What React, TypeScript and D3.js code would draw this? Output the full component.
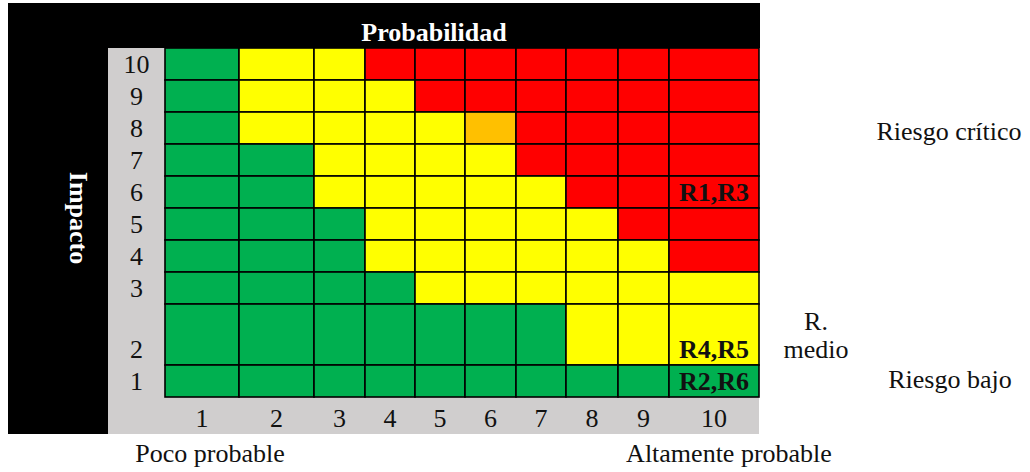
import React from 'react';
import * as d3 from 'd3';

// probability (columns) and impact (rows, top to bottom)
const probabilities = [1, 2, 3, 4, 5, 6, 7, 8, 9, 10];
const impacts = [10, 9, 8, 7, 6, 5, 4, 3, 2, 1];

// risk level per cell: B = bajo, M = medio, A = alto, C = crítico
const levels = [
  'BMMCCCCCCC',
  'BMMMCCCCCC',
  'BMMMMACCCC',
  'BBMMMMCCCC',
  'BBMMMMMCCC',
  'BBBMMMMMCC',
  'BBBMMMMMMC',
  'BBBBMMMMMM',
  'BBBBBBBMMM',
  'BBBBBBBBBB',
];

const risks = [
  { label: 'R1,R3', prob: 10, impact: 6 },
  { label: 'R4,R5', prob: 10, impact: 2 },
  { label: 'R2,R6', prob: 10, impact: 1 },
];

const sideNotes = [
  { lines: ['Riesgo crítico'], impact: 8 },
  { lines: ['R.', 'medio'], impact: 2 },
  { lines: ['Riesgo bajo'], impact: 1 },
];

// layout: sheet column widths / row heights
const colWidths = [74, 75, 51, 50, 50, 51, 50, 52, 51, 90];
const rowHeights = [32, 32, 32, 32, 32, 32, 32, 32, 61, 32];

const colors: Record<string, string> = {
  B: '#00B050',
  M: '#FFFF00',
  A: '#FFC000',
  C: '#FF0000',
};

const font = '"Liberation Serif", "Times New Roman", serif';

export default function App() {
  const gridLeft = 165, gridRight = 759, gridTop = 48, gridBottom = 397;

  const colEdges = [0, ...d3.cumsum(colWidths)];
  const rowEdges = [0, ...d3.cumsum(rowHeights)];
  const x = d3.scaleLinear().domain([0, d3.sum(colWidths)]).range([gridLeft, gridRight]);
  const y = d3.scaleLinear().domain([0, d3.sum(rowHeights)]).range([gridTop, gridBottom]);

  const colX = (p: number) => x(colEdges[probabilities.indexOf(p)]);
  const colX1 = (p: number) => x(colEdges[probabilities.indexOf(p) + 1]);
  const rowY = (i: number) => y(rowEdges[impacts.indexOf(i)]);
  const rowY1 = (i: number) => y(rowEdges[impacts.indexOf(i) + 1]);

  return (
    <svg width={1030} height={472} style={{ position: 'absolute', left: 0, top: 0 }} fontFamily={font}>
      <rect x={0} y={0} width={1030} height={472} fill="#fff" />
      {/* black header and side band */}
      <rect x={8} y={3} width={752} height={45} fill="#000" />
      <rect x={8} y={3} width={100} height={431} fill="#000" />
      <rect x={108} y={48} width={651} height={386} fill="#D0CECE" />
      <text x={434} y={41} textAnchor="middle" fill="#fff" fontWeight="bold" fontSize={26}>
        Probabilidad
      </text>
      <text transform="translate(70,218) rotate(90)" textAnchor="middle" fill="#fff" fontWeight="bold" fontSize={26}>
        Impacto
      </text>

      {/* cells */}
      {impacts.map((imp, r) =>
        probabilities.map((p, c) => (
          <rect
            key={`${r}-${c}`}
            x={colX(p)}
            y={rowY(imp)}
            width={colX1(p) - colX(p)}
            height={rowY1(imp) - rowY(imp)}
            fill={colors[levels[r][c]]}
            stroke="#000"
            strokeWidth={1.6}
          />
        ))
      )}

      {/* row labels */}
      {impacts.map((imp) => (
        <text key={`r${imp}`} x={136.5} y={rowY1(imp) - 7} textAnchor="middle" fontSize={26} fill="#111">
          {imp}
        </text>
      ))}
      {/* column labels */}
      {probabilities.map((p) => (
        <text key={`c${p}`} x={(colX(p) + colX1(p)) / 2} y={427} textAnchor="middle" fontSize={26} fill="#111">
          {p}
        </text>
      ))}

      {/* risks */}
      {risks.map((rk) => (
        <text
          key={rk.label}
          x={(colX(rk.prob) + colX1(rk.prob)) / 2}
          y={rowY1(rk.impact) - 7}
          textAnchor="middle"
          fontSize={26}
          fontWeight="bold"
          fill="#111"
        >
          {rk.label}
        </text>
      ))}

      {/* side notes */}
      <text x={949} y={140} textAnchor="middle" fontSize={26} fill="#111">{sideNotes[0].lines[0]}</text>
      <text x={816} y={330} textAnchor="middle" fontSize={26} fill="#111">{sideNotes[1].lines[0]}</text>
      <text x={816} y={358} textAnchor="middle" fontSize={26} fill="#111">{sideNotes[1].lines[1]}</text>
      <text x={950} y={388} textAnchor="middle" fontSize={26} fill="#111">{sideNotes[2].lines[0]}</text>

      <text x={210} y={462} textAnchor="middle" fontSize={26} fill="#111">Poco probable</text>
      <text x={729} y={462} textAnchor="middle" fontSize={26} fill="#111">Altamente probable</text>
    </svg>
  );
}
